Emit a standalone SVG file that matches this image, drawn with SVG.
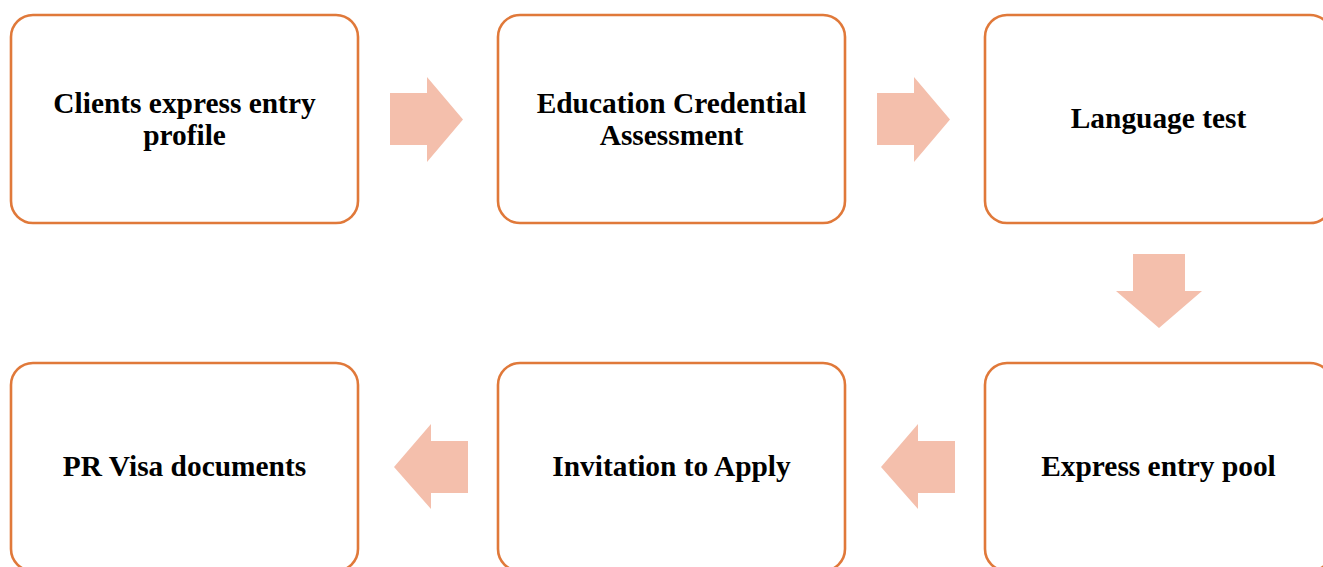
<svg xmlns="http://www.w3.org/2000/svg" width="1323" height="567" viewBox="0 0 1323 567">
<style>
.box{fill:#fff;stroke:#E0793A;stroke-width:2.6}
.arr{fill:#F4BFAC}
.t{font-family:"Liberation Serif","Times New Roman",serif;font-weight:bold;font-size:29.4px;fill:#000;text-anchor:middle}
</style>
<rect width="1323" height="567" fill="#fff"/>
<g id="n1"><rect class="box" x="11" y="15" width="347" height="208" rx="22"/><text class="t" x="184.5" y="113">Clients express entry</text><text class="t" x="184.5" y="145">profile</text></g>
<g id="n2"><rect class="box" x="498" y="15" width="347" height="208" rx="22"/><text class="t" x="671.5" y="113">Education Credential</text><text class="t" x="671.5" y="145">Assessment</text></g>
<g id="n3"><rect class="box" x="985" y="15" width="347" height="208" rx="22"/><text class="t" x="1158.5" y="128">Language test</text></g>
<g id="n4"><rect class="box" x="985" y="363" width="347" height="208" rx="22"/><text class="t" x="1158.5" y="476">Express entry pool</text></g>
<g id="n5"><rect class="box" x="498" y="363" width="347" height="208" rx="22"/><text class="t" x="671.5" y="476">Invitation to Apply</text></g>
<g id="n6"><rect class="box" x="11" y="363" width="347" height="208" rx="22"/><text class="t" x="184.5" y="476">PR Visa documents</text></g>
<g id="connectors">
<polygon class="arr" points="390,93 427,93 427,77 463,119.5 427,162 427,145 390,145"/>
<polygon class="arr" points="877,93 914,93 914,77 950,119.5 914,162 914,145 877,145"/>
<polygon class="arr" points="1133,254 1185,254 1185,291 1202,291 1159,328 1116,291 1133,291"/>
<polygon class="arr" points="955,441 918,441 918,424 881,467 918,509 918,493 955,493"/>
<polygon class="arr" points="468,441 431,441 431,424 394,467 431,509 431,493 468,493"/>
</g>
</svg>
